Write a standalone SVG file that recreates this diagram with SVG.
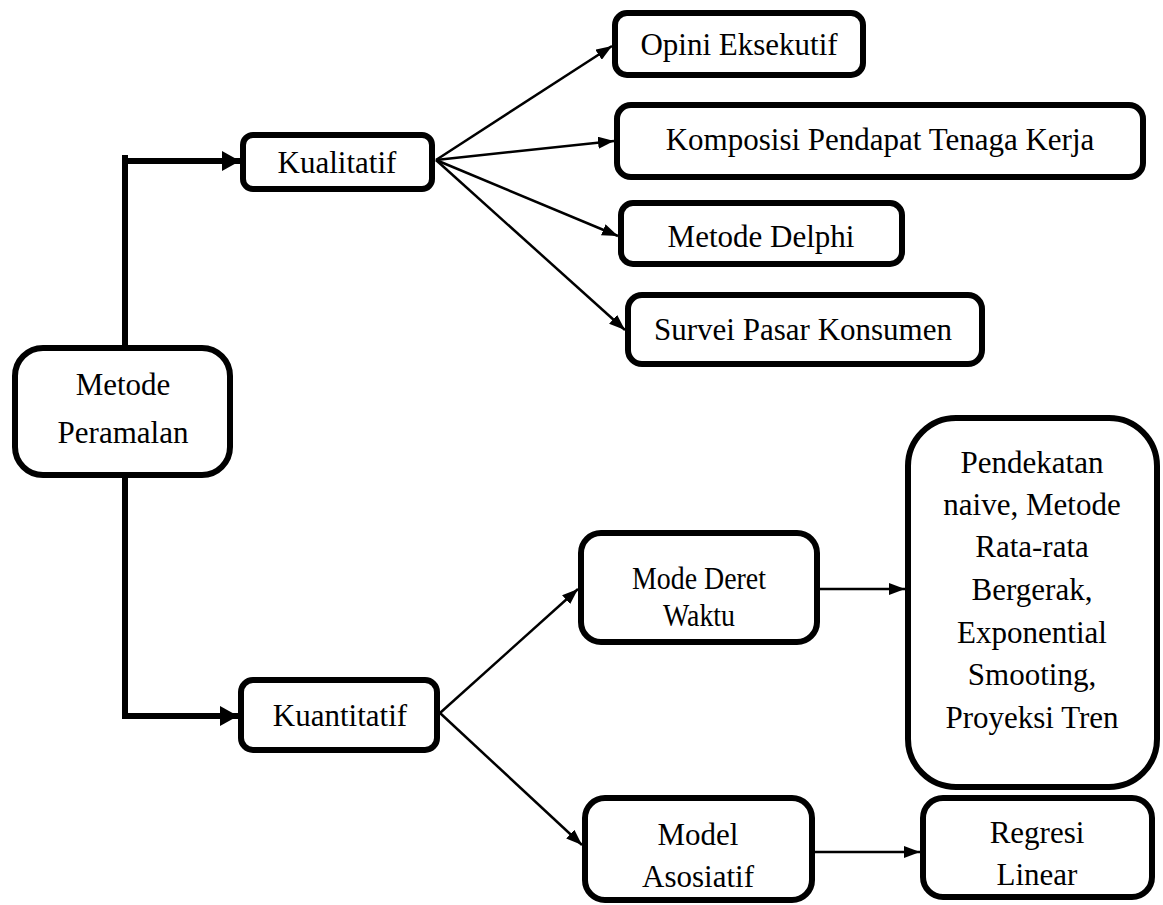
<svg xmlns="http://www.w3.org/2000/svg" width="1163" height="905" viewBox="0 0 1163 905">
<style>
.box{fill:#fff;stroke:#000;stroke-width:6}
.t{font-family:"Liberation Serif","Times New Roman",serif;font-size:31px;fill:#000;text-anchor:middle}
.thin{stroke:#000;stroke-width:2.5;fill:none;marker-end:url(#ah)}
.thick{stroke:#000;stroke-width:6;fill:none}
</style>
<defs>
<marker id="ah" viewBox="0 0 16 12" refX="16" refY="6" markerWidth="16" markerHeight="12" markerUnits="userSpaceOnUse" orient="auto"><path d="M0,0 L16,6 L0,12 z" fill="#000"/></marker>
<marker id="ahb" viewBox="0 0 18 20" refX="18" refY="10" markerWidth="18" markerHeight="20" markerUnits="userSpaceOnUse" orient="auto"><path d="M0,0 L18,10 L0,20 z" fill="#000"/></marker>
</defs>
<rect width="1163" height="905" fill="#fff"/>
<g id="connectors">
<path class="thick" d="M125,346 V155"/>
<path class="thick" d="M122,161 H240" marker-end="url(#ahb)"/>
<path class="thick" d="M125,477 V719"/>
<path class="thick" d="M122,716 H238" marker-end="url(#ahb)"/>
<path class="thin" d="M436,160 L612,46"/>
<path class="thin" d="M436,160 L614,141"/>
<path class="thin" d="M436,160 L618,236"/>
<path class="thin" d="M436,160 L625,330"/>
<path class="thin" d="M440,713 L578,589"/>
<path class="thin" d="M440,713 L582,845"/>
<path class="thin" d="M820,589 L905,589"/>
<path class="thin" d="M815,852 L920,852"/>
</g>
<g id="metode-peramalan">
<rect class="box" x="15" y="348" width="215" height="127" rx="28"/>
<text class="t" x="123" y="395">Metode</text>
<text class="t" x="123" y="443">Peramalan</text>
</g>
<g id="kualitatif">
<rect class="box" x="243" y="135" width="189" height="54" rx="10"/>
<text class="t" x="337" y="173">Kualitatif</text>
</g>
<g id="kuantitatif">
<rect class="box" x="241" y="680" width="196" height="70" rx="12"/>
<text class="t" x="340" y="726">Kuantitatif</text>
</g>
<g id="opini">
<rect class="box" x="615" y="13" width="248" height="62" rx="12"/>
<text class="t" x="739" y="55">Opini Eksekutif</text>
</g>
<g id="komposisi">
<rect class="box" x="617" y="105" width="526" height="72" rx="14"/>
<text class="t" x="880" y="150">Komposisi Pendapat Tenaga Kerja</text>
</g>
<g id="delphi">
<rect class="box" x="621" y="203" width="281" height="61" rx="12"/>
<text class="t" x="761" y="247">Metode Delphi</text>
</g>
<g id="survei">
<rect class="box" x="628" y="295" width="354" height="69" rx="14"/>
<text class="t" x="803" y="340">Survei Pasar Konsumen</text>
</g>
<g id="mode-deret">
<rect class="box" x="581" y="533" width="236" height="109" rx="20"/>
<text class="t" x="699" y="589" textLength="134" lengthAdjust="spacingAndGlyphs">Mode Deret</text>
<text class="t" x="699" y="626" textLength="72" lengthAdjust="spacingAndGlyphs">Waktu</text>
</g>
<g id="metode-deret-list">
<rect class="box" x="908" y="418" width="249" height="369" rx="48"/>
<text class="t" x="1032" y="473">Pendekatan</text>
<text class="t" x="1032" y="515">naive, Metode</text>
<text class="t" x="1032" y="557">Rata-rata</text>
<text class="t" x="1032" y="600">Bergerak,</text>
<text class="t" x="1032" y="643">Exponential</text>
<text class="t" x="1032" y="685">Smooting,</text>
<text class="t" x="1032" y="728">Proyeksi Tren</text>
</g>
<g id="model-asosiatif">
<rect class="box" x="585" y="798" width="227" height="102" rx="20"/>
<text class="t" x="698" y="845">Model</text>
<text class="t" x="698" y="887">Asosiatif</text>
</g>
<g id="regresi">
<rect class="box" x="923" y="798" width="229" height="99" rx="20"/>
<text class="t" x="1037" y="843">Regresi</text>
<text class="t" x="1037" y="885">Linear</text>
</g>
</svg>
